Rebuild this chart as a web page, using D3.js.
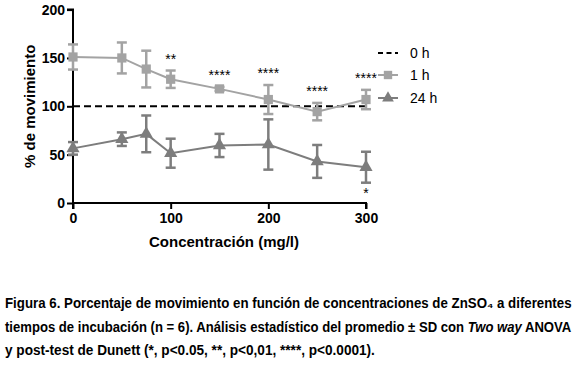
<!DOCTYPE html>
<html><head><meta charset="utf-8">
<script src="https://cdn.jsdelivr.net/npm/d3@7"></script>
<style>body{margin:0;background:#fff;} svg{display:block;font-family:"Liberation Sans",Arial,sans-serif;}</style>
</head><body>
<svg id="c" width="577" height="378"></svg>
<script>
const conc = [0, 50, 75, 100, 150, 200, 250, 300];
const mean1h = [151, 150, 138.5, 128, 118, 107, 94.5, 107];
const sd1h = [13, 16, 19, 9, 2, 15, 9, 10];
const mean24h = [56.5, 66, 71.5, 51.5, 59.5, 60.5, 43, 37];
const sd24h = [6.5, 7, 19, 15, 12, 26, 17, 16];
const baseline0h = 100;
const sig1h = ["", "", "", "**", "****", "****", "****", "****"];
const sig24h = ["", "", "", "", "", "", "", "*"];
const yTicks = [0, 50, 100, 150, 200];
const xTicks = [0, 100, 200, 300];
const legendLabels = ["0 h", "1 h", "24 h"];

const svg = d3.select("#c");
const x = d3.scaleLinear().domain([0, 300]).range([73, 366]);
const y = d3.scaleLinear().domain([0, 200]).range([203, 9.6]);
const c1 = "#a3a3a3", c24 = "#7d7d7d";

// axes
const yAx = svg.append("g").attr("transform", "translate(73,0)")
  .call(d3.axisLeft(y).tickValues(yTicks).tickSize(6).tickPadding(2));
const xAx = svg.append("g").attr("transform", "translate(0,203)")
  .call(d3.axisBottom(x).tickValues(xTicks).tickSize(6).tickPadding(4));
[yAx, xAx].forEach(g => {
  g.select(".domain").attr("stroke", "#000").attr("stroke-width", 2);
  g.selectAll(".tick line").attr("stroke", "#000").attr("stroke-width", 2);
  g.selectAll(".tick text").attr("fill", "#000").attr("font-size", 14).attr("font-weight", "bold")
   .attr("font-family", "'Liberation Sans',Arial,sans-serif");
});
yAx.select(".domain").attr("d", `M-6,${y(200)}H0V${y(0)}`);
xAx.select(".domain").attr("d", `M${x(0)},6V0H${x(300)}V6`);

// axis titles
svg.append("text").attr("transform", `translate(35,${y(100)}) rotate(-90)`)
  .attr("text-anchor", "middle").attr("font-size", 15).attr("font-weight", "bold").text("% de movimiento");
svg.append("text").attr("x", 224).attr("y", 247).attr("text-anchor", "middle")
  .attr("font-size", 15).attr("font-weight", "bold").text("Concentración (mg/l)");

// 0 h dashed
svg.append("line").attr("x1", x(0)).attr("x2", x(300)).attr("y1", y(baseline0h)).attr("y2", y(baseline0h))
  .attr("stroke", "#000").attr("stroke-width", 2).attr("stroke-dasharray", "7,4");

function series(means, sds, color, shape) {
  const g = svg.append("g");
  const data = conc.map((c, i) => ({c, m: means[i], s: sds[i]}));
  g.append("path").datum(data).attr("fill", "none").attr("stroke", color).attr("stroke-width", 2)
    .attr("d", d3.line().x(d => x(d.c)).y(d => y(d.m)));
  const eb = g.selectAll(".eb").data(data).enter().append("g");
  eb.append("line").attr("x1", d => x(d.c)).attr("x2", d => x(d.c))
    .attr("y1", d => y(d.m - d.s)).attr("y2", d => y(d.m + d.s)).attr("stroke", color).attr("stroke-width", 2.5);
  eb.append("line").attr("x1", d => x(d.c) - 5).attr("x2", d => x(d.c) + 5)
    .attr("y1", d => y(d.m + d.s)).attr("y2", d => y(d.m + d.s)).attr("stroke", color).attr("stroke-width", 2.5);
  eb.append("line").attr("x1", d => x(d.c) - 5).attr("x2", d => x(d.c) + 5)
    .attr("y1", d => y(d.m - d.s)).attr("y2", d => y(d.m - d.s)).attr("stroke", color).attr("stroke-width", 2.5);
  g.selectAll(".mk").data(data).enter().append("path")
    .attr("transform", d => `translate(${x(d.c)},${y(d.m)})`)
    .attr("d", d3.symbol().type(shape).size(shape === d3.symbolSquare ? 85 : 75))
    .attr("fill", color);
  return data;
}
const d1 = series(mean1h, sd1h, c1, d3.symbolSquare);
const d24 = series(mean24h, sd24h, c24, d3.symbolTriangle);

// significance labels
svg.selectAll(".s1").data(d1.map((d, i) => ({...d, t: sig1h[i]})).filter(d => d.t)).enter().append("text")
  .attr("x", d => x(d.c)).attr("y", d => y(d.m + d.s) - 7).attr("text-anchor", "middle")
  .attr("font-size", 14).text(d => d.t);
svg.selectAll(".s24").data(d24.map((d, i) => ({...d, t: sig24h[i]})).filter(d => d.t)).enter().append("text")
  .attr("x", d => x(d.c)).attr("y", d => y(d.m - d.s) + 15).attr("text-anchor", "middle")
  .attr("font-size", 14).text(d => d.t);

// legend
const lg = svg.append("g");
const ly = [53, 75, 98];
legendLabels.forEach((lab, i) => {
  const yy = ly[i];
  if (i === 0) {
    lg.append("line").attr("x1", 378).attr("x2", 398).attr("y1", yy).attr("y2", yy)
      .attr("stroke", "#000").attr("stroke-width", 2).attr("stroke-dasharray", "5,3.5");
  } else {
    const col = i === 1 ? c1 : c24;
    lg.append("line").attr("x1", 378).attr("x2", 398).attr("y1", yy).attr("y2", yy)
      .attr("stroke", col).attr("stroke-width", 2);
    lg.append("path").attr("transform", `translate(388,${yy})`)
      .attr("d", d3.symbol().type(i === 1 ? d3.symbolSquare : d3.symbolTriangle).size(i === 1 ? 70 : 60))
      .attr("fill", col);
  }
  lg.append("text").attr("x", 410).attr("y", yy + 5).attr("font-size", 14).text(lab);
});

// caption: each line scaled horizontally to the reference width
function capLine(yy, width, build) {
  const g = svg.append("g");
  const t = g.append("text").attr("x", 0).attr("y", 0).attr("font-size", 14).attr("font-weight", "bold");
  build(t);
  const w = t.node().getComputedTextLength();
  g.attr("transform", `translate(5,${yy}) scale(${width / w},1)`);
}
capLine(308, 567, t => t.text("Figura 6. Porcentaje de movimiento en función de concentraciones de ZnSO₄ a diferentes"));
capLine(332, 567, t => {
  t.append("tspan").text("tiempos de incubación (n = 6). Análisis estadístico del promedio ± SD con ");
  t.append("tspan").attr("font-style", "italic").text("Two way");
  t.append("tspan").text(" ANOVA");
});
capLine(355, 370, t => t.text("y post-test de Dunett (*, p<0.05, **, p<0,01, ****, p<0.0001)."));
</script>
</body></html>
